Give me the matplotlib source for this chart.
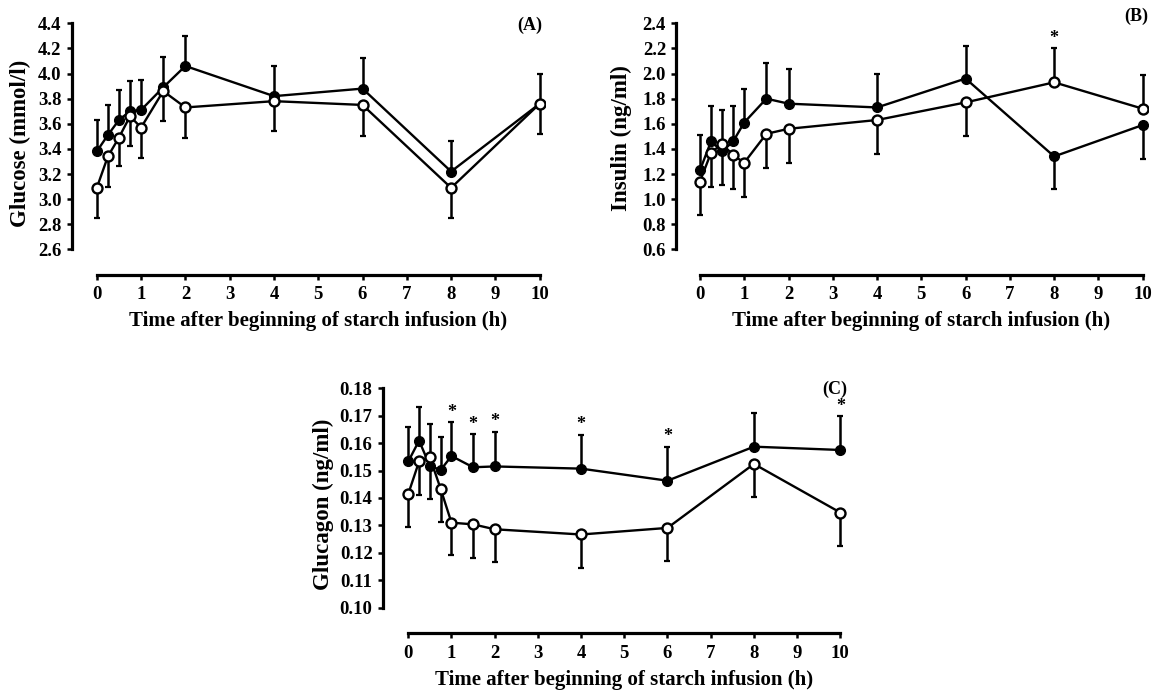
import numpy as np
import matplotlib
matplotlib.use("Agg")
import matplotlib.pyplot as plt

plt.rcParams.update({
    "font.family": "Liberation Serif",
    "font.weight": "bold",
    "axes.labelweight": "bold",
})

# ---- data ----
time_h = [0, 0.25, 0.5, 0.75, 1, 1.5, 2, 4, 6, 8, 10]

glucose_filled = [3.38, 3.51, 3.63, 3.70, 3.71, 3.89, 4.06, 3.82, 3.88, 3.22, 3.76]
glucose_filled_sem = [0.25, 0.24, 0.24, 0.24, 0.24, 0.24, 0.24, 0.24, 0.24, 0.24, 0.24]
glucose_open = [3.09, 3.34, 3.49, 3.66, 3.57, 3.86, 3.73, 3.78, 3.75, 3.09, 3.76]
glucose_open_sem = [0.24, 0.24, 0.23, 0.24, 0.24, 0.24, 0.24, 0.24, 0.25, 0.24, 0.24]
glucose_filled_dir = [1, 1, 1, 1, 1, 1, 1, 1, 1, 1, 1]

insulin_filled = [1.23, 1.46, 1.38, 1.46, 1.61, 1.80, 1.76, 1.73, 1.96, 1.34, 1.59]
insulin_filled_sem = [0.28, 0.28, 0.27, 0.28, 0.27, 0.28, 0.28, 0.27, 0.26, 0.26, 0.27]
insulin_open = [1.14, 1.37, 1.44, 1.35, 1.29, 1.52, 1.56, 1.63, 1.77, 1.93, 1.72]
insulin_open_sem = [0.27, 0.27, 0.27, 0.27, 0.27, 0.27, 0.27, 0.27, 0.27, 0.27, 0.27]
insulin_filled_dir = [1, 1, -1, 1, 1, 1, 1, 1, 1, -1, -1]

glucagon_filled = [0.1533, 0.1609, 0.1517, 0.1502, 0.1553, 0.1512, 0.1515,
                   0.1507, 0.1463, 0.1587, 0.1575]
glucagon_filled_sem = [0.0125, 0.0123, 0.0121, 0.0122, 0.0124, 0.0121, 0.0126,
                       0.0123, 0.0124, 0.0124, 0.0124]
glucagon_open = [0.1415, 0.1533, 0.1548, 0.1433, 0.1310, 0.1304, 0.1286,
                 0.1267, 0.1291, 0.1524, 0.1347]
glucagon_open_sem = [0.0122, 0.0122, 0.0122, 0.0119, 0.0119, 0.0122, 0.0119,
                     0.0121, 0.0120, 0.0119, 0.0121]
glucagon_filled_dir = [1, 1, -1, 1, 1, 1, 1, 1, 1, 1, 1]

insulin_stars = [8]
glucagon_stars = [1, 1.5, 2, 4, 6, 10]

XLABEL = "Time after beginning of starch infusion (h)"

W, H = 1156, 691
fig = plt.figure(figsize=(W / 100, H / 100), dpi=100)


def px_axes(left, right, top, bottom):
    return fig.add_axes([left / W, 1 - bottom / H, (right - left) / W, (bottom - top) / H])


def split_err(sem, direction):
    sem = np.asarray(sem)
    d = np.asarray(direction)
    return np.where(d < 0, sem, 0.0), np.where(d > 0, sem, 0.0)


def panel(ax, box, filled, fsem, opn, osem, fdir, xlim, ylim, yticks, yfmt,
          ylabel, ylabel_xy, tag, tag_xy, stars=()):
    left, right, top, bottom = box
    fdir = np.asarray(fdir)
    flo, fup = split_err(fsem, fdir)
    olo, oup = split_err(osem, -fdir)

    for y, lo, up in ((filled, flo, fup), (opn, olo, oup)):
        ax.errorbar(time_h, y, yerr=[lo, up], fmt="none", ecolor="black",
                    elinewidth=1.8, capsize=2.3, capthick=1.6, zorder=2)
    ax.plot(time_h, filled, "-o", color="black", lw=1.7, ms=7,
            mfc="black", mec="black", zorder=3)
    ax.plot(time_h, opn, "-o", color="black", lw=1.7, ms=7.2,
            mfc="white", mec="black", mew=1.7, zorder=4)

    # significance stars above the highest error bar
    tops = np.maximum(np.asarray(filled) + fup, np.asarray(opn) + oup)
    for t in stars:
        i = time_h.index(t)
        ax.annotate("*", (t, tops[i]), xytext=(0, 1), textcoords="offset points",
                    ha="center", va="bottom", fontsize=13, fontweight="bold")

    ax.set_xlim(*xlim)
    ax.set_ylim(*ylim)
    ax.set_xticks(range(0, 11))
    ax.set_yticks(yticks)
    ax.set_yticklabels([yfmt.format(v) for v in yticks])
    for s in ("top", "right"):
        ax.spines[s].set_visible(False)
    ax.spines["left"].set_bounds(yticks[0], yticks[-1])
    ax.spines["bottom"].set_bounds(0, 10)
    for s in ("left", "bottom"):
        ax.spines[s].set_linewidth(2.3)
    ax.tick_params(axis="both", direction="out", length=3.5, width=1.8,
                   labelsize=13.5, pad=4)
    ax.tick_params(axis="x", pad=5)

    w, h = right - left, bottom - top
    ax.set_xlabel(XLABEL, fontsize=15)
    ax.xaxis.label.set_verticalalignment("center")
    ax.xaxis.set_label_coords((5 - xlim[0]) / (xlim[1] - xlim[0]), -46.5 / h)
    ax.set_ylabel(ylabel, fontsize=16.5)
    ax.yaxis.label.set_verticalalignment("center")
    ax.yaxis.set_label_coords((ylabel_xy[0] - left) / w, (bottom - ylabel_xy[1]) / h)

    fig.text(tag_xy[0] / W, 1 - tag_xy[1] / H, tag, ha="center", va="center",
             fontsize=13, fontweight="bold")


boxA = (72, 545, 15, 274.5)
panel(px_axes(*boxA), boxA, glucose_filled, glucose_filled_sem, glucose_open,
      glucose_open_sem, glucose_filled_dir, (-0.56, 10.12), (2.4, 4.466),
      [2.6, 2.8, 3.0, 3.2, 3.4, 3.6, 3.8, 4.0, 4.2, 4.4], "{:.1f}",
      "Glucose (mmol/l)", (20, 143), "(A)", (530, 25))

boxB = (676.5, 1148, 15, 274.5)
panel(px_axes(*boxB), boxB, insulin_filled, insulin_filled_sem, insulin_open,
      insulin_open_sem, insulin_filled_dir, (-0.53, 10.12), (0.4, 2.466),
      [0.6, 0.8, 1.0, 1.2, 1.4, 1.6, 1.8, 2.0, 2.2, 2.4], "{:.1f}",
      "Insulin (ng/ml)", (621, 138), "(B)", (1136, 16), stars=insulin_stars)

boxC = (383, 845.5, 380, 633)
panel(px_axes(*boxC), boxC, glucagon_filled, glucagon_filled_sem, glucagon_open,
      glucagon_open_sem, glucagon_filled_dir, (-0.585, 10.12), (0.0908, 0.183),
      [0.10, 0.11, 0.12, 0.13, 0.14, 0.15, 0.16, 0.17, 0.18], "{:.2f}",
      "Glucagon (ng/ml)", (323, 504), "(C)", (835, 389), stars=glucagon_stars)

fig.savefig("out.png", dpi=100)
